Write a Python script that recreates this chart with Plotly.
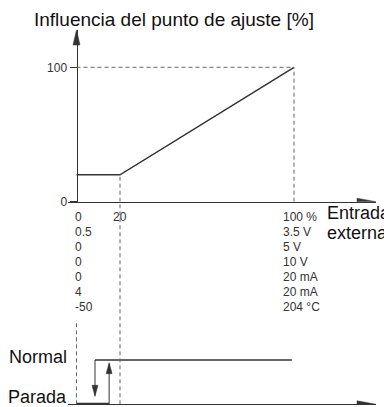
import plotly.graph_objects as go

# characteristic: setpoint influence vs external input
curve_x = [0, 20, 100]
curve_y = [20, 20, 100]

y_ticks = [0, 100]
threshold = 20
full_scale = 100

# scale labels under the x axis (one row per input type)
scale_low = ["0", "0.5", "0", "0", "0", "4", "-50"]
scale_high = ["100 %", "3.5 V", "5 V", "10 V", "20 mA", "20 mA", "204 °C"]

# run / stop hysteresis
states = ["Parada", "Normal"]
switch_off = 8.5
switch_on = 15
normal_end = 99

# the page body adds an 8px margin, so the figure is drawn 8px smaller
OFF = 8
W, H = 392 - OFF, 407 - OFF
X0, XS = 76.5 - OFF, 2.175     # px of x=0, px per unit
Y0, YS = 201.7 - OFF, 1.344    # px of y=0 (top chart), px per unit
S0, SS = 404.3 - OFF, 44.3     # px of Parada, px per state step

LINE = "#333333"
DASH = "#666666"
TEXT = "#111111"
FONT = "Liberation Sans, Arial, sans-serif"


def paper_y(px):
    return (H - (px - OFF)) / H


def paper_x(px):
    return (px - OFF) / W


x_left, x_right = 68 - OFF, 376 - OFF
x_range = [(x_left - X0) / XS, (x_right - X0) / XS]
y_top = (Y0 - (30 - OFF)) / YS
s_top = (S0 - Y0) / SS

fig = go.Figure()

fig.add_trace(go.Scatter(x=curve_x, y=curve_y, mode="lines",
                         line={"color": LINE, "width": 1.5}, hoverinfo="skip"))

# bottom chart: state lines
bottom = {"xaxis": "x2", "yaxis": "y2", "mode": "lines", "hoverinfo": "skip"}
fig.add_trace(go.Scatter(x=[switch_off, normal_end], y=[1, 1],
                         line={"color": LINE, "width": 1.5}, **bottom))
fig.add_trace(go.Scatter(x=[0, switch_on], y=[0, 0],
                         line={"color": LINE, "width": 3}, **bottom))
fig.add_trace(go.Scatter(x=[switch_off, switch_off], y=[1, 0.2],
                         line={"color": LINE, "width": 1}, **bottom))
fig.add_trace(go.Scatter(x=[switch_on, switch_on], y=[0, 0.92],
                         line={"color": LINE, "width": 1}, **bottom))

dash = {"color": DASH, "width": 1, "dash": "4px,3px"}
shapes = [
    dict(type="line", xref="x", yref="y", x0=0, x1=full_scale, y0=100, y1=100, line=dash),
    dict(type="line", xref="x", yref="y", x0=full_scale, x1=full_scale, y0=0, y1=100, line=dash),
    dict(type="line", xref="x", yref="y", x0=threshold, x1=threshold, y0=0, y1=20, line=dash),
    dict(type="line", xref="x2", yref="y2", x0=threshold, x1=threshold, y0=0, y1=s_top, line=dash),
    dict(type="line", xref="x2", yref="y2", x0=0, x1=0, y0=0, y1=(S0 - (320 - OFF)) / SS, line=dash),
]


def head(x, y, xref, yref, direction, length, half):
    paths = {
        "up": f"M0,0 L{-half},{-length} L{half},{-length} Z",
        "down": f"M0,0 L{-half},{length} L{half},{length} Z",
        "right": f"M0,0 L{-length},{half} L{-length},{-half} Z",
    }
    return dict(type="path", xref=xref, yref=yref, xsizemode="pixel", ysizemode="pixel",
                xanchor=x, yanchor=y, path=paths[direction],
                fillcolor=LINE, line={"color": LINE, "width": 0.5})


shapes += [
    head(0, y_top, "x", "y", "up", 15, 3.5),
    head(x_range[1], 0, "x", "y", "right", 19, 3.5),
    head(x_range[1], 0, "x2", "y2", "right", 19, 3.5),
    head(switch_off, 0.18, "x2", "y2", "down", 11, 3),
    head(switch_on, 0.94, "x2", "y2", "up", 11, 3),
]

ann = [
    dict(text="Influencia del punto de ajuste [%]", xref="paper", yref="paper",
         x=paper_x(32), y=paper_y(19), xanchor="left", yanchor="middle",
         showarrow=False, font={"size": 19, "color": TEXT}),
    dict(text="Entrada", xref="x", yref="y", x=full_scale, y=0, xshift=31, yshift=-11.3,
         xanchor="left", yanchor="middle", showarrow=False, font={"size": 18, "color": TEXT}),
    dict(text="externa", xref="x", yref="y", x=full_scale, y=0, xshift=31, yshift=-31.3,
         xanchor="left", yanchor="middle", showarrow=False, font={"size": 18, "color": TEXT}),
    dict(text=str(threshold), xref="x", yref="y", x=threshold, y=0, yshift=-15.6,
         xanchor="center", yanchor="middle", showarrow=False, font={"size": 12, "color": LINE}),
    dict(text=states[1], xref="x2", yref="y2", x=0, y=1, xshift=-8, yshift=3,
         xanchor="right", yanchor="middle", showarrow=False, font={"size": 18, "color": TEXT}),
    dict(text=states[0], xref="x2", yref="y2", x=0, y=0, xshift=-8, yshift=7,
         xanchor="right", yanchor="middle", showarrow=False, font={"size": 18, "color": TEXT}),
]
for i, (lo, hi) in enumerate(zip(scale_low, scale_high)):
    shift = -15.6 - 15 * i
    ann.append(dict(text=lo, xref="x", yref="y", x=0, y=0, xshift=-3.5, yshift=shift,
                    xanchor="left", yanchor="middle", showarrow=False,
                    font={"size": 12, "color": LINE}))
    ann.append(dict(text=hi, xref="x", yref="y", x=full_scale, y=0, xshift=-13, yshift=shift,
                    xanchor="left", yanchor="middle", showarrow=False,
                    font={"size": 12, "color": LINE}))

axis_off = dict(showticklabels=False, ticks="", showgrid=False, zeroline=False,
                automargin=False)
fig.update_layout(
    width=W, height=H,
    margin={"l": 0, "r": 0, "t": 0, "b": 0, "autoexpand": False},
    paper_bgcolor="white", plot_bgcolor="white",
    showlegend=False,
    font={"family": FONT, "color": LINE},
    shapes=shapes,
    annotations=ann,
    xaxis=dict(domain=[x_left / W, x_right / W], range=x_range, anchor="y",
               showline=True, linecolor=LINE, linewidth=1, **axis_off),
    xaxis2=dict(domain=[x_left / W, x_right / W], range=x_range, anchor="y2",
                showline=True, linecolor=LINE, linewidth=1, **axis_off),
    yaxis=dict(domain=[paper_y(201.7), paper_y(30)], range=[0, y_top],
               anchor="free", position=X0 / W, automargin=False,
               showline=True, linecolor=LINE, linewidth=1,
               ticks="outside", ticklen=7, tickcolor=LINE,
               tickvals=y_ticks, tickfont={"size": 12, "color": LINE},
               showgrid=False, zeroline=False),
    yaxis2=dict(domain=[paper_y(404.3), paper_y(201.7)], range=[0, s_top],
                anchor="x2", showline=False, **axis_off),
)

fig.write_html("out.html")
